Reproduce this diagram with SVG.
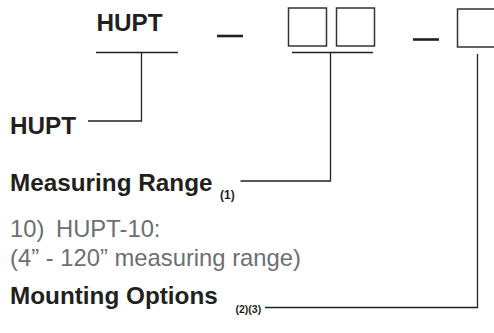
<svg xmlns="http://www.w3.org/2000/svg" width="494" height="333" viewBox="0 0 494 333">
<style>
.b{font-family:"Liberation Sans",Arial,sans-serif;font-weight:bold;font-size:24.3px;fill:#231f20}
.s{font-family:"Liberation Sans",Arial,sans-serif;font-weight:bold;fill:#231f20}
.g{font-family:"Liberation Sans",Arial,sans-serif;font-size:23.8px;fill:#6d6e71}
.box{fill:none;stroke:#333;stroke-width:1.5}
.ln{fill:none;stroke:#231f20;stroke-width:1.3}
.dash{stroke:#231f20;stroke-width:2.6}
</style>
<rect width="494" height="333" fill="#fff"/>
<g id="code">
<text class="b" x="96.5" y="31">HUPT</text>
<line class="dash" x1="217" y1="36" x2="243" y2="36"/>
<rect class="box" x="288.5" y="8" width="38" height="38"/>
<rect class="box" x="336.5" y="8" width="38" height="38"/>
<line class="dash" x1="413" y1="39.5" x2="439" y2="39.5"/>
<rect class="box" x="457.5" y="9" width="45" height="38"/>
</g>
<g id="label-hupt"><text class="b" x="10" y="134">HUPT</text></g>
<g id="label-range">
<text class="b" x="10" y="191">Measuring Range</text>
<text class="s" x="220" y="198.5" font-size="12">(1)</text>
</g>
<g id="desc">
<text class="g" x="10" y="237">10)</text>
<text class="g" x="56" y="237">HUPT-10:</text>
<text class="g" x="10" y="266">(4” - 120” measuring range)</text>
</g>
<g id="label-mount">
<text class="b" x="10" y="304">Mounting Options</text>
<text class="s" x="235.5" y="312.5" font-size="10.5">(2)(3)</text>
</g>
<g id="connectors">
<line class="ln" x1="96" y1="52.5" x2="178" y2="52.5"/>
<polyline class="ln" points="141.5,52.5 141.5,121 88,121"/>
<line class="ln" x1="292" y1="52.5" x2="373" y2="52.5"/>
<polyline class="ln" points="330.5,52.5 330.5,181 240.5,181"/>
<polyline class="ln" points="477.5,54 477.5,307.5 265,307.5"/>
</g>
</svg>
